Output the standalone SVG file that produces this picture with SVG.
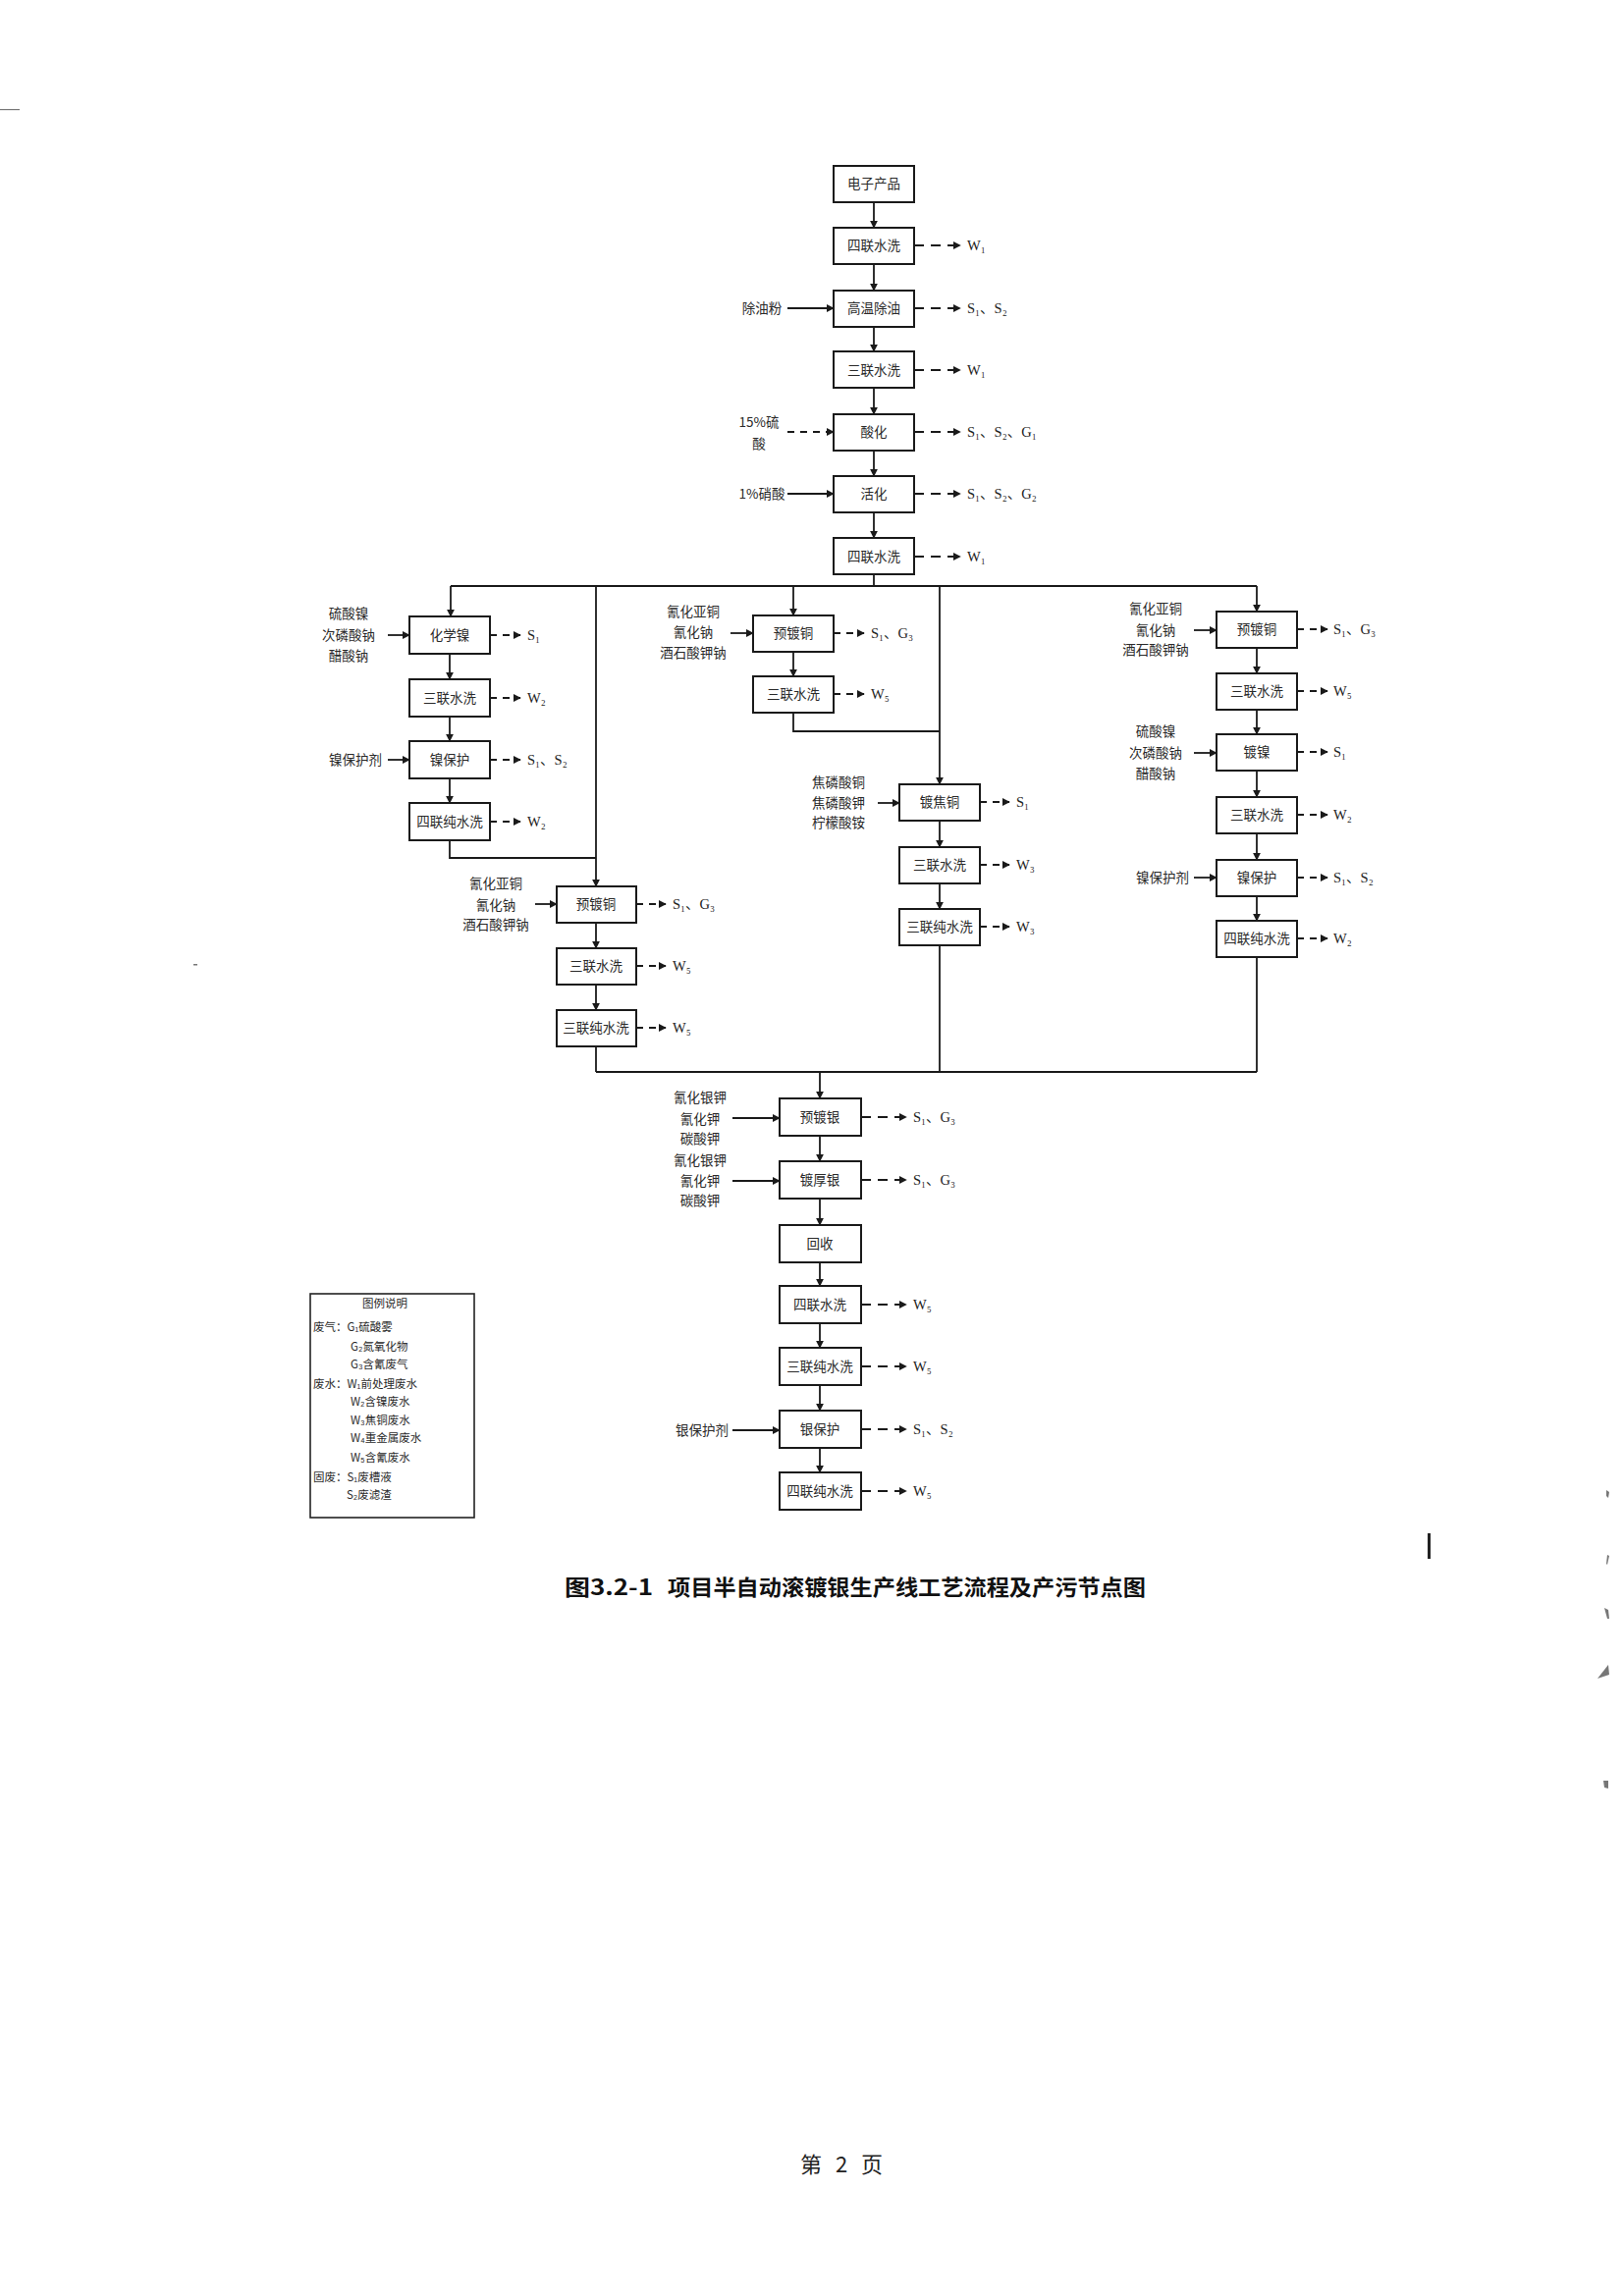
<svg xmlns="http://www.w3.org/2000/svg" width="1653" height="2339" viewBox="0 0 1653 2339">
<style>
.bx{fill:#fff;stroke:#1a1a1a;stroke-width:2}
.ln{fill:none;stroke:#1a1a1a;stroke-width:1.8}
.ar{marker-end:url(#ah)}
.dl{stroke-dasharray:10 7}
.ds{stroke-dasharray:7 6}
.t{font-family:"Noto Sans CJK SC","Noto Sans CJK TC",sans-serif;font-size:13.5px;fill:#2a2a2a;text-anchor:middle}
.o{font-family:"Liberation Serif","DejaVu Serif","Noto Sans CJK SC",serif;font-size:14.5px;fill:#222}
.lg{font-family:"Noto Sans CJK SC",sans-serif;font-size:11.5px;fill:#2a2a2a}
.art{fill:#777;stroke:none}
.ft{font-family:"Noto Sans CJK SC",sans-serif;font-size:22px;fill:#222;text-anchor:middle}
</style>
<defs>
<marker id="ah" viewBox="0 0 10 10" refX="9" refY="5" markerWidth="8" markerHeight="8" markerUnits="userSpaceOnUse" orient="auto">
<path d="M0,0 L10,5 L0,10 z" fill="#1a1a1a"/>
</marker>
</defs>
<rect width="1653" height="2339" fill="#fff"/>

<g id="connectors">
<path class="ln ar" d="M890 206 V232"/>
<path class="ln ar" d="M890 269 V296"/>
<path class="ln ar" d="M890 333 V358"/>
<path class="ln ar" d="M890 396 V422"/>
<path class="ln ar" d="M890 459 V485"/>
<path class="ln ar" d="M890 522 V548"/>
<path class="ln" d="M890 585 V597"/>
<path class="ln ar" d="M802 314 H849"/>
<path class="ln ar ds" d="M802 440 H849"/>
<path class="ln ar" d="M802 503 H849"/>
<path class="ln ar dl" d="M931 250 H978"/>
<path class="ln ar dl" d="M931 314 H978"/>
<path class="ln ar dl" d="M931 377 H978"/>
<path class="ln ar dl" d="M931 440 H978"/>
<path class="ln ar dl" d="M931 503 H978"/>
<path class="ln ar dl" d="M931 567 H978"/>
<path class="ln" d="M459 597 H1280"/>
<path class="ln ar" d="M459 597 V628"/>
<path class="ln ar" d="M607 597 V903"/>
<path class="ln ar" d="M808 597 V627"/>
<path class="ln ar" d="M957 597 V799"/>
<path class="ln ar" d="M1280 597 V623"/>
<path class="ln ar" d="M458 666 V692"/>
<path class="ln ar" d="M458 730 V755"/>
<path class="ln ar" d="M458 793 V818"/>
<path class="ln" d="M458 856 V874 H607"/>
<path class="ln ar" d="M395 647 H417"/>
<path class="ln ar" d="M395 774 H417"/>
<path class="ln ar ds" d="M499 647 H530"/>
<path class="ln ar ds" d="M499 711 H530"/>
<path class="ln ar ds" d="M499 774 H530"/>
<path class="ln ar ds" d="M499 837 H530"/>
<path class="ln ar" d="M607 940 V966"/>
<path class="ln ar" d="M607 1003 V1029"/>
<path class="ln" d="M607 1066 V1092"/>
<path class="ln ar" d="M545 921 H567"/>
<path class="ln ar ds" d="M648 921 H678"/>
<path class="ln ar ds" d="M648 984 H678"/>
<path class="ln ar ds" d="M648 1047 H678"/>
<path class="ln ar" d="M808 664 V689"/>
<path class="ln" d="M808 726 V745 H957"/>
<path class="ln ar" d="M744 645 H767"/>
<path class="ln ar ds" d="M849 645 H880"/>
<path class="ln ar ds" d="M849 707 H880"/>
<path class="ln ar" d="M957 836 V863"/>
<path class="ln ar" d="M957 900 V926"/>
<path class="ln" d="M957 963 V1092"/>
<path class="ln ar" d="M894 818 H916"/>
<path class="ln ar ds" d="M998 817 H1028"/>
<path class="ln ar ds" d="M998 881 H1028"/>
<path class="ln ar ds" d="M998 944 H1028"/>
<path class="ln ar" d="M1280 660 V686"/>
<path class="ln ar" d="M1280 723 V748"/>
<path class="ln ar" d="M1280 785 V812"/>
<path class="ln ar" d="M1280 849 V876"/>
<path class="ln ar" d="M1280 913 V938"/>
<path class="ln" d="M1280 975 V1092"/>
<path class="ln ar" d="M1216 642 H1239"/>
<path class="ln ar" d="M1216 767 H1239"/>
<path class="ln ar" d="M1216 894 H1239"/>
<path class="ln ar ds" d="M1321 641 H1352"/>
<path class="ln ar ds" d="M1321 704 H1352"/>
<path class="ln ar ds" d="M1321 766 H1352"/>
<path class="ln ar ds" d="M1321 830 H1352"/>
<path class="ln ar ds" d="M1321 894 H1352"/>
<path class="ln ar ds" d="M1321 956 H1352"/>
<path class="ln" d="M607 1092 H1280"/>
<path class="ln ar" d="M835 1092 V1119"/>
<path class="ln ar" d="M835 1157 V1183"/>
<path class="ln ar" d="M835 1221 V1248"/>
<path class="ln ar" d="M835 1286 V1310"/>
<path class="ln ar" d="M835 1348 V1373"/>
<path class="ln ar" d="M835 1411 V1437"/>
<path class="ln ar" d="M835 1475 V1500"/>
<path class="ln ar" d="M746 1139 H794"/>
<path class="ln ar" d="M746 1203 H794"/>
<path class="ln ar" d="M746 1457 H794"/>
<path class="ln ar dl" d="M877 1138 H923"/>
<path class="ln ar dl" d="M877 1202 H923"/>
<path class="ln ar dl" d="M877 1329 H923"/>
<path class="ln ar dl" d="M877 1392 H923"/>
<path class="ln ar dl" d="M877 1456 H923"/>
<path class="ln ar dl" d="M877 1519 H923"/>
</g>

<g id="n1"><rect class="bx" x="849" y="169" width="82" height="37"/><text class="t" x="890" y="192">电子产品</text></g>
<g id="n2"><rect class="bx" x="849" y="232" width="82" height="37"/><text class="t" x="890" y="255">四联水洗</text><text class="o" x="985" y="255">W₁</text></g>
<g id="n3"><rect class="bx" x="849" y="296" width="82" height="37"/><text class="t" x="890" y="319">高温除油</text><text class="t" x="776" y="319">除油粉</text><text class="o" x="985" y="319">S₁、S₂</text></g>
<g id="n4"><rect class="bx" x="849" y="358" width="82" height="37"/><text class="t" x="890" y="382">三联水洗</text><text class="o" x="985" y="382">W₁</text></g>
<g id="n5"><rect class="bx" x="849" y="422" width="82" height="37"/><text class="t" x="890" y="445">酸化</text><text class="t" x="773" y="435">15%硫</text><text class="t" x="773" y="457">酸</text><text class="o" x="985" y="445">S₁、S₂、G₁</text></g>
<g id="n6"><rect class="bx" x="849" y="485" width="82" height="37"/><text class="t" x="890" y="508">活化</text><text class="t" x="776" y="508">1%硝酸</text><text class="o" x="985" y="508">S₁、S₂、G₂</text></g>
<g id="n7"><rect class="bx" x="849" y="548" width="82" height="37"/><text class="t" x="890" y="572">四联水洗</text><text class="o" x="985" y="572">W₁</text></g>

<g id="L1"><rect class="bx" x="417" y="628" width="82" height="38"/><text class="t" x="458" y="652">化学镍</text><text class="t" x="355" y="630">硫酸镍</text><text class="t" x="355" y="652">次磷酸钠</text><text class="t" x="355" y="673">醋酸钠</text><text class="o" x="537" y="652">S₁</text></g>
<g id="L2"><rect class="bx" x="417" y="692" width="82" height="38"/><text class="t" x="458" y="716">三联水洗</text><text class="o" x="537" y="716">W₂</text></g>
<g id="L3"><rect class="bx" x="417" y="755" width="82" height="38"/><text class="t" x="458" y="779">镍保护</text><text class="t" x="362" y="779">镍保护剂</text><text class="o" x="537" y="779">S₁、S₂</text></g>
<g id="L4"><rect class="bx" x="417" y="818" width="82" height="38"/><text class="t" x="458" y="842">四联纯水洗</text><text class="o" x="537" y="842">W₂</text></g>

<g id="M1"><rect class="bx" x="567" y="903" width="81" height="37"/><text class="t" x="607" y="926">预镀铜</text><text class="t" x="505" y="905">氰化亚铜</text><text class="t" x="505" y="927">氰化钠</text><text class="t" x="505" y="947">酒石酸钾钠</text><text class="o" x="685" y="926">S₁、G₃</text></g>
<g id="M2"><rect class="bx" x="567" y="966" width="81" height="37"/><text class="t" x="607" y="989">三联水洗</text><text class="o" x="685" y="989">W₅</text></g>
<g id="M3"><rect class="bx" x="567" y="1029" width="81" height="37"/><text class="t" x="607" y="1052">三联纯水洗</text><text class="o" x="685" y="1052">W₅</text></g>

<g id="C1"><rect class="bx" x="767" y="627" width="82" height="37"/><text class="t" x="808" y="650">预镀铜</text><text class="t" x="706" y="628">氰化亚铜</text><text class="t" x="706" y="649">氰化钠</text><text class="t" x="706" y="670">酒石酸钾钠</text><text class="o" x="887" y="650">S₁、G₃</text></g>
<g id="C2"><rect class="bx" x="767" y="689" width="82" height="37"/><text class="t" x="808" y="712">三联水洗</text><text class="o" x="887" y="712">W₅</text></g>

<g id="J1"><rect class="bx" x="916" y="799" width="82" height="37"/><text class="t" x="957" y="822">镀焦铜</text><text class="t" x="854" y="802">焦磷酸铜</text><text class="t" x="854" y="823">焦磷酸钾</text><text class="t" x="854" y="843">柠檬酸铵</text><text class="o" x="1035" y="822">S₁</text></g>
<g id="J2"><rect class="bx" x="916" y="863" width="82" height="37"/><text class="t" x="957" y="886">三联水洗</text><text class="o" x="1035" y="886">W₃</text></g>
<g id="J3"><rect class="bx" x="916" y="926" width="82" height="37"/><text class="t" x="957" y="949">三联纯水洗</text><text class="o" x="1035" y="949">W₃</text></g>

<g id="R1"><rect class="bx" x="1239" y="623" width="82" height="37"/><text class="t" x="1280" y="646">预镀铜</text><text class="t" x="1177" y="625">氰化亚铜</text><text class="t" x="1177" y="647">氰化钠</text><text class="t" x="1177" y="667">酒石酸钾钠</text><text class="o" x="1358" y="646">S₁、G₃</text></g>
<g id="R2"><rect class="bx" x="1239" y="686" width="82" height="37"/><text class="t" x="1280" y="709">三联水洗</text><text class="o" x="1358" y="709">W₅</text></g>
<g id="R3"><rect class="bx" x="1239" y="748" width="82" height="37"/><text class="t" x="1280" y="771">镀镍</text><text class="t" x="1177" y="750">硫酸镍</text><text class="t" x="1177" y="772">次磷酸钠</text><text class="t" x="1177" y="793">醋酸钠</text><text class="o" x="1358" y="771">S₁</text></g>
<g id="R4"><rect class="bx" x="1239" y="812" width="82" height="37"/><text class="t" x="1280" y="835">三联水洗</text><text class="o" x="1358" y="835">W₂</text></g>
<g id="R5"><rect class="bx" x="1239" y="876" width="82" height="37"/><text class="t" x="1280" y="899">镍保护</text><text class="t" x="1184" y="899">镍保护剂</text><text class="o" x="1358" y="899">S₁、S₂</text></g>
<g id="R6"><rect class="bx" x="1239" y="938" width="82" height="37"/><text class="t" x="1280" y="961">四联纯水洗</text><text class="o" x="1358" y="961">W₂</text></g>

<g id="B1"><rect class="bx" x="794" y="1119" width="83" height="38"/><text class="t" x="835" y="1143">预镀银</text><text class="t" x="713" y="1123">氰化银钾</text><text class="t" x="713" y="1145">氰化钾</text><text class="t" x="713" y="1165">碳酸钾</text><text class="o" x="930" y="1143">S₁、G₃</text></g>
<g id="B2"><rect class="bx" x="794" y="1183" width="83" height="38"/><text class="t" x="835" y="1207">镀厚银</text><text class="t" x="713" y="1187">氰化银钾</text><text class="t" x="713" y="1208">氰化钾</text><text class="t" x="713" y="1228">碳酸钾</text><text class="o" x="930" y="1207">S₁、G₃</text></g>
<g id="B3"><rect class="bx" x="794" y="1248" width="83" height="38"/><text class="t" x="835" y="1272">回收</text></g>
<g id="B4"><rect class="bx" x="794" y="1310" width="83" height="38"/><text class="t" x="835" y="1334">四联水洗</text><text class="o" x="930" y="1334">W₅</text></g>
<g id="B5"><rect class="bx" x="794" y="1373" width="83" height="38"/><text class="t" x="835" y="1397">三联纯水洗</text><text class="o" x="930" y="1397">W₅</text></g>
<g id="B6"><rect class="bx" x="794" y="1437" width="83" height="38"/><text class="t" x="835" y="1461">银保护</text><text class="t" x="715" y="1462">银保护剂</text><text class="o" x="930" y="1461">S₁、S₂</text></g>
<g id="B7"><rect class="bx" x="794" y="1500" width="83" height="38"/><text class="t" x="835" y="1524">四联纯水洗</text><text class="o" x="930" y="1524">W₅</text></g>

<g id="legend">
<rect x="316" y="1318" width="167" height="228" fill="#fff" stroke="#222" stroke-width="1.6"/>
<text class="lg" x="392" y="1332" text-anchor="middle">图例说明</text>
<text class="lg" x="319" y="1356">废气：G₁硫酸雾</text>
<text class="lg" x="357" y="1376">G₂氮氧化物</text>
<text class="lg" x="357" y="1394">G₃含氰废气</text>
<text class="lg" x="319" y="1414">废水：W₁前处理废水</text>
<text class="lg" x="357" y="1432">W₂含镍废水</text>
<text class="lg" x="357" y="1451">W₃焦铜废水</text>
<text class="lg" x="357" y="1469">W₄重金属废水</text>
<text class="lg" x="357" y="1489">W₅含氰废水</text>
<text class="lg" x="319" y="1509">固废：S₁废槽液</text>
<text class="lg" x="353" y="1527">S₂废滤渣</text>
</g>

<text x="575" y="1625" font-family="Noto Sans CJK SC,sans-serif" font-weight="bold" font-size="22" fill="#111" textLength="90" lengthAdjust="spacingAndGlyphs">图3.2-1</text>
<text x="680" y="1625" font-family="Noto Sans CJK SC,sans-serif" font-weight="bold" font-size="22" fill="#111" textLength="487" lengthAdjust="spacingAndGlyphs">项目半自动滚镀银生产线工艺流程及产污节点图</text>
<g id="footer">
<text class="ft" x="826" y="2213">第</text>
<text class="ft" x="857" y="2213">2</text>
<text class="ft" x="888" y="2213">页</text>
</g>

<rect class="art" x="0" y="111" width="20" height="1.2"/>
<rect x="1454" y="1562" width="3" height="26" fill="#222"/>
<rect class="art" x="197" y="982" width="4" height="1.5"/>
<path class="art" d="M1636 1518 l3 2 l-1 6 l-2 -2 z"/>
<path class="art" d="M1637 1584 l2 1 l-2 9 l-1 -1 z"/>
<path class="art" d="M1634 1638 l4 2 l1 9 l-2 0 z"/>
<path class="art" d="M1627 1710 l11 -14 l1 10 z"/>
<path class="art" d="M1633 1814 l5 0 l0 8 l-4 -1 z"/>
</svg>
